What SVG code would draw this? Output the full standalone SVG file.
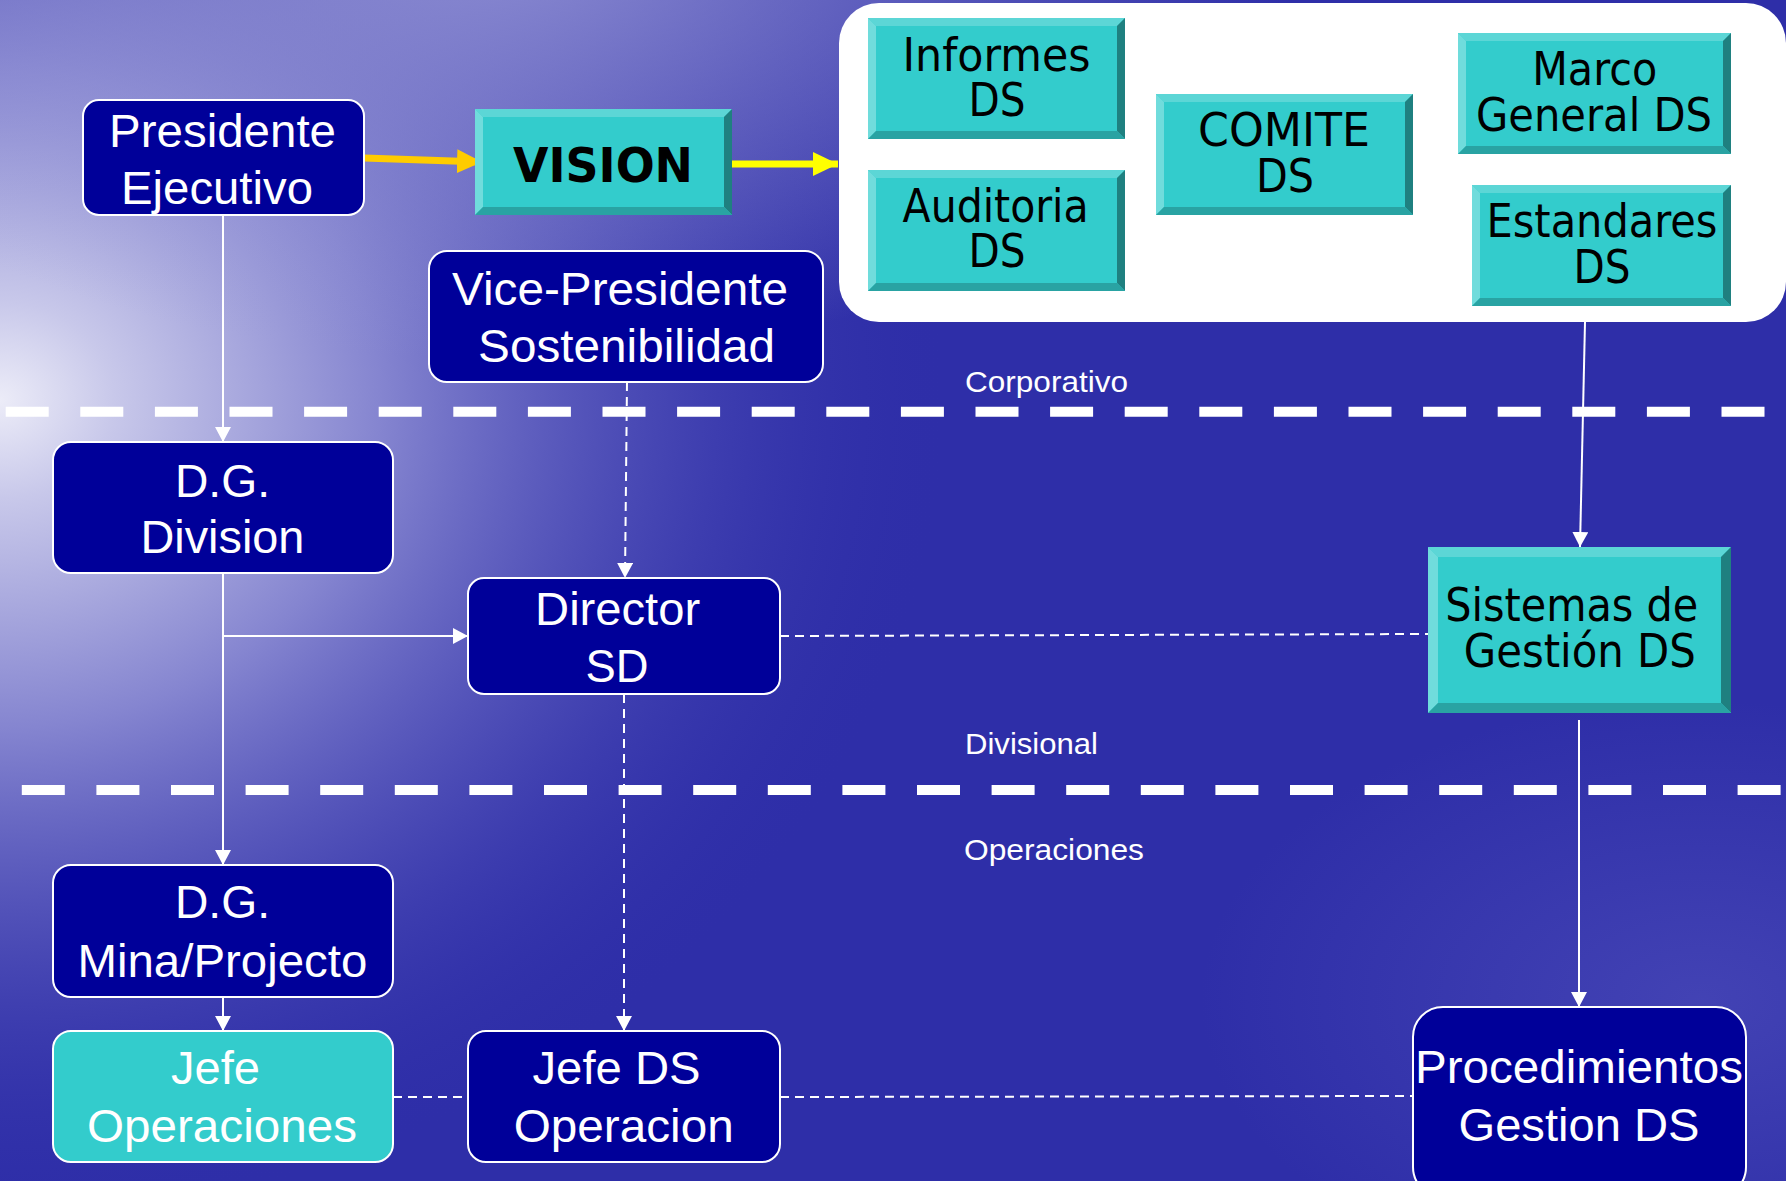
<svg xmlns="http://www.w3.org/2000/svg" width="1786" height="1181" viewBox="0 0 1786 1181">
<style>
.nav{fill:#000099;stroke:#ffffff;stroke-width:2}
.tealbox{fill:#33CCCC;stroke:#ffffff;stroke-width:2}
.wt{font-family:"Liberation Sans",Arial,sans-serif;font-size:47px;fill:#ffffff;text-anchor:middle}
.bt{font-family:"DejaVu Sans","Liberation Sans",sans-serif;font-size:46px;fill:#000000;text-anchor:middle}
.lbl{font-family:"Liberation Sans",Arial,sans-serif;font-size:30px;fill:#ffffff}
.bf{fill:#33CCCC}
.bT{fill:#5CD6D6}
.bL{fill:#70DCDC}
.bR{fill:#1F8080}
.bB{fill:#29A3A3}
.sep{stroke:#ffffff;stroke-width:10;stroke-dasharray:43 31.6;fill:none}
.sol{stroke:#ffffff;stroke-width:2;fill:none;marker-end:url(#wa)}
.dsh{stroke:#ffffff;stroke-width:2;fill:none;stroke-dasharray:9 6}
.dsha{stroke:#ffffff;stroke-width:2;fill:none;stroke-dasharray:9 6;marker-end:url(#wa)}
</style>
<defs>
<radialGradient id="glow" gradientUnits="userSpaceOnUse" cx="0" cy="0" r="1" gradientTransform="translate(0 400) scale(950 820)">
<stop offset="0" stop-color="#ececf8"/>
<stop offset="0.12" stop-color="#c8c8ea"/>
<stop offset="0.4" stop-color="#8585d0"/>
<stop offset="0.75" stop-color="#4848b4" stop-opacity="0.6"/>
<stop offset="1" stop-color="#2e2ea8" stop-opacity="0"/>
</radialGradient>
<radialGradient id="topglow" gradientUnits="userSpaceOnUse" cx="0" cy="0" r="1" gradientTransform="translate(500 -60) scale(800 420)">
<stop offset="0" stop-color="#9a9ad8" stop-opacity="0.85"/>
<stop offset="1" stop-color="#9a9ad8" stop-opacity="0"/>
</radialGradient>
<radialGradient id="brglow" gradientUnits="userSpaceOnUse" cx="0" cy="0" r="1" gradientTransform="translate(1700 1000) scale(500 300)">
<stop offset="0" stop-color="#5050bc" stop-opacity="0.6"/>
<stop offset="1" stop-color="#5050bc" stop-opacity="0"/>
</radialGradient>
<marker id="wa" markerUnits="userSpaceOnUse" markerWidth="15" markerHeight="16" refX="15" refY="8" orient="auto">
<path d="M0,0 L15,8 L0,16 z" fill="#ffffff"/>
</marker>
<marker id="ya1" markerUnits="userSpaceOnUse" markerWidth="25" markerHeight="24" refX="25" refY="12" orient="auto">
<path d="M0,0 L25,12 L0,24 z" fill="#FFCC00"/>
</marker>
<marker id="ya2" markerUnits="userSpaceOnUse" markerWidth="25" markerHeight="24" refX="25" refY="12" orient="auto">
<path d="M0,0 L25,12 L0,24 z" fill="#FFFF00"/>
</marker>
</defs>

<g id="background">
<rect x="0" y="0" width="1786" height="1181" fill="#2e2ea8"/>
<rect x="0" y="0" width="1786" height="1181" fill="url(#glow)"/>
<rect x="0" y="0" width="1786" height="1181" fill="url(#topglow)"/>
<rect x="0" y="0" width="1786" height="1181" fill="url(#brglow)"/>
</g>

<g id="separators">
<line class="sep" x1="5.7" y1="411.7" x2="1786" y2="411.7"/>
<line class="sep" x1="21.8" y1="790" x2="1786" y2="790"/>
</g>

<g id="labels">
<text class="lbl" x="965" y="392" textLength="163" lengthAdjust="spacingAndGlyphs">Corporativo</text>
<text class="lbl" x="965" y="754" textLength="133" lengthAdjust="spacingAndGlyphs">Divisional</text>
<text class="lbl" x="964" y="860" textLength="180" lengthAdjust="spacingAndGlyphs">Operaciones</text>
</g>

<g id="panel">
<rect x="839" y="3" width="947" height="319" rx="40" fill="#ffffff"/>
</g>

<g id="connectors">
<line x1="364" y1="158" x2="482" y2="162" stroke="#FFCC00" stroke-width="7" marker-end="url(#ya1)"/>
<line x1="732" y1="164" x2="838" y2="164" stroke="#FFFF00" stroke-width="7" marker-end="url(#ya2)"/>
<line class="sol" x1="223" y1="215" x2="223" y2="442"/>
<line class="sol" x1="223" y1="573" x2="223" y2="865"/>
<line class="sol" x1="223" y1="636" x2="468" y2="636"/>
<line class="sol" x1="223" y1="997" x2="223" y2="1031"/>
<line class="dsha" x1="627" y1="382" x2="625" y2="578"/>
<line class="dsha" x1="624" y1="694" x2="624" y2="1031"/>
<line class="dsh" x1="780" y1="636" x2="1428" y2="634"/>
<line class="dsh" x1="393" y1="1097" x2="468" y2="1097"/>
<line class="dsh" x1="780" y1="1097" x2="1413" y2="1096"/>
<line class="sol" x1="1585" y1="322" x2="1580" y2="547"/>
<line class="sol" x1="1579" y1="720" x2="1579" y2="1007"/>
</g>

<g id="presidente">
<rect class="nav" x="83" y="100" width="281" height="115" rx="16"/>
<text class="wt" x="222.5" y="147" textLength="227" lengthAdjust="spacingAndGlyphs">Presidente</text>
<text class="wt" x="217" y="204" textLength="192" lengthAdjust="spacingAndGlyphs">Ejecutivo</text>
</g>

<g id="vision">
<rect class="bf" x="475" y="109" width="257" height="106"/>
<polygon class="bT" points="475,109 732,109 724,117 483,117"/>
<polygon class="bL" points="475,109 483,117 483,207 475,215"/>
<polygon class="bR" points="732,109 732,215 724,207 724,117"/>
<polygon class="bB" points="475,215 483,207 724,207 732,215"/>
<text x="603" y="182" font-family="'DejaVu Sans',Verdana,sans-serif" font-weight="bold" font-size="48" fill="#000000" text-anchor="middle" textLength="180" lengthAdjust="spacingAndGlyphs">VISION</text>
</g>

<g id="informes">
<rect class="bf" x="868" y="18" width="257" height="121"/>
<polygon class="bT" points="868,18 1125,18 1117,26 876,26"/>
<polygon class="bL" points="868,18 876,26 876,131 868,139"/>
<polygon class="bR" points="1125,18 1125,139 1117,131 1117,26"/>
<polygon class="bB" points="868,139 876,131 1117,131 1125,139"/>
<text class="bt" x="996.5" y="71" textLength="188" lengthAdjust="spacingAndGlyphs">Informes</text>
<text class="bt" x="997" y="116" textLength="57" lengthAdjust="spacingAndGlyphs">DS</text>
</g>

<g id="auditoria">
<rect class="bf" x="868" y="170" width="257" height="121"/>
<polygon class="bT" points="868,170 1125,170 1117,178 876,178"/>
<polygon class="bL" points="868,170 876,178 876,283 868,291"/>
<polygon class="bR" points="1125,170 1125,291 1117,283 1117,178"/>
<polygon class="bB" points="868,291 876,283 1117,283 1125,291"/>
<text class="bt" x="995.6" y="222" textLength="186" lengthAdjust="spacingAndGlyphs">Auditoria</text>
<text class="bt" x="997" y="267" textLength="57" lengthAdjust="spacingAndGlyphs">DS</text>
</g>

<g id="comite">
<rect class="bf" x="1156" y="94" width="257" height="121"/>
<polygon class="bT" points="1156,94 1413,94 1405,102 1164,102"/>
<polygon class="bL" points="1156,94 1164,102 1164,207 1156,215"/>
<polygon class="bR" points="1413,94 1413,215 1405,207 1405,102"/>
<polygon class="bB" points="1156,215 1164,207 1405,207 1413,215"/>
<text class="bt" x="1284" y="146" textLength="172" lengthAdjust="spacingAndGlyphs">COMITE</text>
<text class="bt" x="1285" y="192" textLength="58" lengthAdjust="spacingAndGlyphs">DS</text>
</g>

<g id="marco">
<rect class="bf" x="1458" y="33" width="273" height="121"/>
<polygon class="bT" points="1458,33 1731,33 1723,41 1466,41"/>
<polygon class="bL" points="1458,33 1466,41 1466,146 1458,154"/>
<polygon class="bR" points="1731,33 1731,154 1723,146 1723,41"/>
<polygon class="bB" points="1458,154 1466,146 1723,146 1731,154"/>
<text class="bt" x="1594.7" y="85" textLength="125" lengthAdjust="spacingAndGlyphs">Marco</text>
<text class="bt" x="1594" y="131" textLength="236" lengthAdjust="spacingAndGlyphs">General DS</text>
</g>

<g id="estandares">
<rect class="bf" x="1472" y="185" width="259" height="121"/>
<polygon class="bT" points="1472,185 1731,185 1723,193 1480,193"/>
<polygon class="bL" points="1472,185 1480,193 1480,298 1472,306"/>
<polygon class="bR" points="1731,185 1731,306 1723,298 1723,193"/>
<polygon class="bB" points="1472,306 1480,298 1723,298 1731,306"/>
<text class="bt" x="1602" y="237" textLength="231" lengthAdjust="spacingAndGlyphs">Estandares</text>
<text class="bt" x="1602" y="283" textLength="57" lengthAdjust="spacingAndGlyphs">DS</text>
</g>

<g id="vicepresidente">
<rect class="nav" x="429" y="251" width="394" height="131" rx="18"/>
<text class="wt" x="620" y="305" textLength="336" lengthAdjust="spacingAndGlyphs">Vice-Presidente</text>
<text class="wt" x="626.6" y="362" textLength="297" lengthAdjust="spacingAndGlyphs">Sostenibilidad</text>
</g>

<g id="dg-division">
<rect class="nav" x="53" y="442" width="340" height="131" rx="18"/>
<text class="wt" x="222.5" y="497" textLength="95" lengthAdjust="spacingAndGlyphs">D.G.</text>
<text class="wt" x="222.4" y="553" textLength="164" lengthAdjust="spacingAndGlyphs">Division</text>
</g>

<g id="director-sd">
<rect class="nav" x="468" y="578" width="312" height="116" rx="16"/>
<text class="wt" x="617.6" y="625" textLength="165" lengthAdjust="spacingAndGlyphs">Director</text>
<text class="wt" x="617" y="682" textLength="63" lengthAdjust="spacingAndGlyphs">SD</text>
</g>

<g id="sistemas">
<rect class="bf" x="1428" y="547" width="303" height="166"/>
<polygon class="bT" points="1428,547 1731,547 1721,557 1438,557"/>
<polygon class="bL" points="1428,547 1438,557 1438,703 1428,713"/>
<polygon class="bR" points="1731,547 1731,713 1721,703 1721,557"/>
<polygon class="bB" points="1428,713 1438,703 1721,703 1731,713"/>
<text class="bt" x="1571.7" y="621" textLength="253" lengthAdjust="spacingAndGlyphs">Sistemas de</text>
<text class="bt" x="1579.8" y="667" textLength="232" lengthAdjust="spacingAndGlyphs">Gestión DS</text>
</g>

<g id="dg-mina">
<rect class="nav" x="53" y="865" width="340" height="132" rx="18"/>
<text class="wt" x="222.5" y="918" textLength="95" lengthAdjust="spacingAndGlyphs">D.G.</text>
<text class="wt" x="222.4" y="977" textLength="290" lengthAdjust="spacingAndGlyphs">Mina/Projecto</text>
</g>

<g id="jefe-operaciones">
<rect class="tealbox" x="53" y="1031" width="340" height="131" rx="18"/>
<text class="wt" x="215.5" y="1084" textLength="89" lengthAdjust="spacingAndGlyphs">Jefe</text>
<text class="wt" x="222" y="1142" textLength="270" lengthAdjust="spacingAndGlyphs">Operaciones</text>
</g>

<g id="jefe-ds-operacion">
<rect class="nav" x="468" y="1031" width="312" height="131" rx="18"/>
<text class="wt" x="616.5" y="1084" textLength="168" lengthAdjust="spacingAndGlyphs">Jefe DS</text>
<text class="wt" x="623.7" y="1142" textLength="220" lengthAdjust="spacingAndGlyphs">Operacion</text>
</g>

<g id="procedimientos">
<rect class="nav" x="1413" y="1007" width="333" height="190" rx="30"/>
<text class="wt" x="1579" y="1083" textLength="328" lengthAdjust="spacingAndGlyphs">Procedimientos</text>
<text class="wt" x="1579" y="1141" textLength="241" lengthAdjust="spacingAndGlyphs">Gestion DS</text>
</g>
</svg>
